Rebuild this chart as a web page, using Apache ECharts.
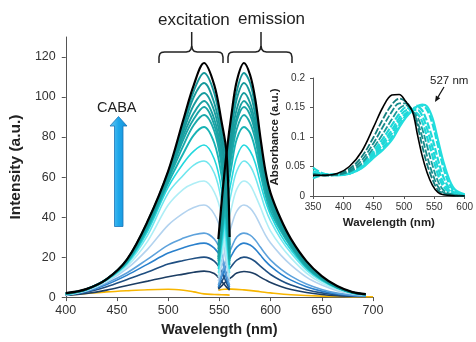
<!DOCTYPE html>
<html><head><meta charset="utf-8">
<script src="https://cdn.jsdelivr.net/npm/echarts@6/dist/echarts.min.js"></script>
<style>html,body{margin:0;padding:0;background:#fff}#c{width:476px;height:342px}</style>
</head><body><div id="c"></div>
<script>
// ---------- main chart: excitation / emission spectra ----------
const excX = [400, 420, 440, 460, 480, 500, 515, 525, 535, 545, 552, 557, 560];
const emX  = [549, 553, 557, 562, 567, 574, 580, 585, 590, 595, 600, 610, 620, 635, 650, 665, 680, 693];

const exYellow = [1, 1.8, 2.6, 3.2, 3.7, 3.9, 3.4, 2.6, 1.6, 1.3, 1.2, 1.1, 1.0];
const emYellowX = [549, 555, 562, 574, 590, 600, 620, 650, 680, 700];
const emYellow  = [3.4, 3.9, 4, 3.6, 2.7, 2.1, 1.2, 0.5, 0.25, 0.15];

const ex13  = [0.8, 1.8, 3.5, 5.8, 8, 10.2, 11.5, 12.4, 13, 11.8, 8, 5, 3.5];
const ex20  = [1, 2.5, 5.2, 8.8, 12.5, 16.5, 18.3, 19.3, 20, 18, 13, 7, 4];
const ex27  = [1, 2.8, 6.3, 11, 16.5, 22, 24.7, 26.2, 27, 24.5, 19, 9, 5];
const ex32  = [1, 3, 7, 12.2, 19, 26, 29.5, 31.2, 32, 29, 22, 11, 6];
const ex46  = [1.1, 3.2, 7.6, 14.3, 24, 36, 42, 44.8, 46, 41.5, 32, 16, 8];
const ex58  = [1.2, 3.4, 8.2, 15.5, 28, 46, 54, 56.8, 58, 52.5, 41, 20, 10];
const ex68  = [1.3, 3.5, 8.5, 16.5, 31, 52, 61, 66, 68, 62, 48, 25, 12];
const ex76  = [1.4, 3.6, 8.7, 17, 33, 55, 67, 73, 76, 69, 54, 30, 14];
const ex85  = [1.5, 3.7, 8.8, 17.5, 34.5, 57, 72, 81, 85, 77, 61, 37, 16];
const ex91  = [1.6, 3.8, 8.9, 18, 35.5, 58.5, 76, 86, 91, 83, 66, 42, 18];
const ex95  = [1.7, 3.8, 8.9, 18.2, 36, 59.5, 79, 89, 95, 86, 69, 46, 19];
const ex98  = [1.7, 3.9, 8.9, 18.4, 36.5, 60, 81, 92, 98, 89, 72, 50, 20];
const ex102 = [1.8, 3.9, 9, 18.6, 37, 61, 83, 96, 102, 93, 76, 55, 22];
const ex107 = [1.9, 4, 9, 18.8, 37.5, 62, 85, 100, 107, 97, 80, 60, 24];
const ex112 = [1.9, 4, 9, 18.9, 37.8, 62.5, 87, 103, 112, 102, 84, 66, 26];
const ex117 = [2, 4, 9, 19, 38, 63, 89, 106, 117, 106, 88, 72, 30];

const em13  = [4, 6, 8, 10, 12, 12.8, 12.4, 11.5, 10, 8.6, 7.3, 5.3, 3.8, 2.3, 1.3, 0.7, 0.4, 0.3];
const em20  = [4.5, 8.5, 12, 15.5, 18.5, 20, 19.3, 17.8, 15.5, 13.3, 11.3, 8.3, 6, 3.7, 2.1, 1.1, 0.6, 0.4];
const em27  = [5, 11, 16, 21, 25, 27, 26, 24, 21, 18, 15.5, 11.5, 8.5, 5.2, 3, 1.6, 0.8, 0.5];
const em32  = [6, 13, 19, 25, 30, 32, 31, 28.5, 25, 21.5, 18.5, 14, 10.5, 6.5, 3.8, 2, 1, 0.6];
const em46  = [8, 18, 27, 36, 43, 46, 44.5, 41, 36, 31, 27, 21, 16, 10, 6, 3.2, 1.6, 1];
const em58  = [10, 23, 34, 45, 54, 58, 56, 51, 45, 38.5, 33, 25.5, 19.5, 12, 7, 3.8, 1.8, 1.1];
const em68  = [12, 27, 40, 53, 63, 68, 65.5, 60, 52, 44, 38, 29, 22, 13.5, 8, 4.3, 2, 1.2];
const em76  = [14, 30, 45, 59, 70, 76, 73, 67, 57, 48, 41, 31, 23.5, 14.5, 8.5, 4.5, 2, 1.2];
const em85  = [16, 34, 50, 66, 79, 85, 82, 74, 62, 51, 43, 33, 25, 15, 8.8, 4.7, 2.1, 1.3];
const em91  = [18, 37, 54, 71, 84, 91, 87, 79, 65, 53, 45, 34, 25.5, 15.5, 9, 4.8, 2.2, 1.3];
const em95  = [19, 39, 57, 74, 88, 95, 91, 82, 67, 55, 46, 34.5, 26, 16, 9.3, 4.9, 2.2, 1.3];
const em98  = [20, 41, 59, 77, 90, 98, 94, 84, 69, 56, 47, 35, 26.5, 16, 9.5, 5, 2.3, 1.4];
const em102 = [22, 43, 62, 80, 94, 102, 97, 87, 71, 57, 48, 36, 27, 16.5, 9.7, 5, 2.3, 1.4];
const em107 = [24, 46, 65, 84, 99, 107, 102, 91, 74, 59, 49.5, 37, 28, 17, 10, 5.2, 2.4, 1.4];
const em112 = [26, 49, 69, 88, 103, 112, 107, 95, 77, 61, 51, 38, 28.5, 17.5, 10, 5.3, 2.4, 1.5];
const em117 = [29, 52, 72, 92, 108, 117, 111, 99, 80, 63, 52, 39, 29, 18, 10.5, 5.5, 2.5, 1.5];

const excList = [ex13, ex20, ex27, ex32, ex46, ex58, ex68, ex76, ex85, ex91, ex95, ex98, ex102, ex107, ex112, ex117];
const emList  = [em13, em20, em27, em32, em46, em58, em68, em76, em85, em91, em95, em98, em102, em107, em112, em117];
const levelColors = ['#1c3d63', '#1f4f82', '#2a80cc', '#5da2dc', '#b3d3ef', '#aeeef6', '#6fe6ee', '#22d8de',
                     '#17b3b5', '#19a9ab', '#18a4a6', '#18a0a2', '#179c9e', '#16999b', '#16979a', '#000000'];
const yTicks = [0, 20, 40, 60, 80, 100, 120];

// ---------- inset: absorbance ----------
const insX = [350, 370, 390, 410, 430, 450, 465, 480, 492, 503, 514, 522, 530, 538, 547, 556, 565, 575, 585, 600];
const absBlack = [0.035, 0.035, 0.038, 0.05, 0.075, 0.117, 0.15, 0.171, 0.172, 0.16, 0.143, 0.105, 0.068, 0.04, 0.018, 0.006, 0.002, 0.001, 0, 0];
const absT1 = [0.036, 0.035, 0.037, 0.046, 0.066, 0.1, 0.13, 0.155, 0.165, 0.16, 0.144, 0.12, 0.085, 0.054, 0.028, 0.01, 0.004, 0.002, 0.001, 0];
const absT2 = [0.037, 0.035, 0.036, 0.043, 0.06, 0.09, 0.117, 0.143, 0.157, 0.157, 0.144, 0.126, 0.1, 0.068, 0.038, 0.016, 0.006, 0.003, 0.001, 0];
const absT3 = [0.038, 0.035, 0.036, 0.041, 0.055, 0.082, 0.105, 0.13, 0.148, 0.154, 0.144, 0.134, 0.114, 0.085, 0.052, 0.025, 0.01, 0.004, 0.002, 0];
const absC1 = [0.04, 0.036, 0.036, 0.04, 0.052, 0.076, 0.097, 0.12, 0.139, 0.15, 0.144, 0.14, 0.126, 0.1, 0.068, 0.036, 0.016, 0.006, 0.002, 0.001];
const absC2 = [0.042, 0.037, 0.036, 0.039, 0.05, 0.072, 0.091, 0.112, 0.132, 0.145, 0.146, 0.146, 0.136, 0.114, 0.082, 0.048, 0.022, 0.009, 0.003, 0.001];
const absC3 = [0.03, 0.036, 0.036, 0.038, 0.049, 0.07, 0.087, 0.106, 0.126, 0.14, 0.146, 0.151, 0.145, 0.126, 0.097, 0.062, 0.032, 0.013, 0.005, 0.002];
const absC4 = [0.048, 0.037, 0.036, 0.038, 0.048, 0.068, 0.082, 0.1, 0.12, 0.136, 0.146, 0.153, 0.153, 0.146, 0.122, 0.085, 0.048, 0.02, 0.007, 0.002];
const absC5 = [0.04, 0.036, 0.035, 0.038, 0.047, 0.065, 0.078, 0.095, 0.116, 0.133, 0.145, 0.152, 0.155, 0.152, 0.132, 0.095, 0.058, 0.027, 0.01, 0.003];

const FONT = 'Arial, "Liberation Sans", sans-serif';
const pairs = (xs, ys) => xs.map((x, i) => [x, ys[i]]);

const series = [];
function addMain(xs, ys, color, width) {
  series.push({ type: 'line', xAxisIndex: 0, yAxisIndex: 0, data: pairs(xs, ys), showSymbol: false,
    smooth: 0.35, lineStyle: { color: color, width: width }, silent: true });
}
addMain(excX, exYellow, '#f7b500', 1.6);
addMain(emYellowX, emYellow, '#f7b500', 1.6);
for (let i = 0; i < excList.length; i++) {
  const w = i === excList.length - 1 ? 2.2 : (i >= 8 ? 1.9 : 1.6);
  addMain(excX, excList[i], levelColors[i], w);
  addMain(emX, emList[i], levelColors[i], w);
}
function addInset(ys, color, width, dashed) {
  series.push({ type: 'line', xAxisIndex: 1, yAxisIndex: 1, data: pairs(insX, ys), showSymbol: false,
    smooth: 0.35, lineStyle: { color: color, width: width, type: dashed ? [7, 2] : 'solid' }, silent: true });
}
addInset(absC1, '#1fd8d8', 2.2, true);
addInset(absC2, '#1fd8d8', 2.2, true);
addInset(absC3, '#1fd8d8', 2.2, true);
addInset(absC4, '#1fd8d8', 2.2, true);
addInset(absC5, '#22dede', 2.2, false);
addInset(absT3, '#1a9a9a', 1.8, true);
addInset(absT2, '#178c8c', 1.8, true);
addInset(absT1, '#147e7e', 1.8, true);
addInset(absBlack, '#000000', 1.6, false);

const axisCol = '#555';
const braceStyle = { stroke: '#222', lineWidth: 1.5, fill: null };
function brace(xl, xm, xr) {
  return [
    { type: 'polyline', silent: true, style: braceStyle, shape: { points: [
      [xl, 63], [xl, 57], [xl + 0.8, 54], [xl + 2.5, 52.5], [xl + 5.5, 52], [xm - 5.5, 52],
      [xm - 2.5, 51.3], [xm - 0.8, 49.3], [xm, 46], [xm, 32]] } },
    { type: 'polyline', silent: true, style: braceStyle, shape: { points: [
      [xm, 46], [xm + 0.8, 49.3], [xm + 2.5, 51.3], [xm + 5.5, 52], [xr - 5.5, 52],
      [xr - 2.5, 52.5], [xr - 0.8, 54], [xr, 57], [xr, 63]] } }
  ];
}

const option = {
  animation: false,
  backgroundColor: '#fff',
  textStyle: { fontFamily: FONT },
  grid: [
    { left: 60, right: 103, top: 37, bottom: 40 },
    { left: 313, right: 8, top: 78, bottom: 146 }
  ],
  xAxis: [
    { type: 'value', gridIndex: 0, min: 400, max: 700, interval: 50,
      name: 'Wavelength (nm)', nameLocation: 'middle', nameGap: 23,
      nameTextStyle: { fontWeight: 'bold', fontSize: 14.5, color: '#222', fontFamily: FONT },
      axisLine: { lineStyle: { color: axisCol } }, axisTick: { length: 4, lineStyle: { color: axisCol } },
      axisLabel: { fontSize: 12.5, color: '#333', margin: 7, fontFamily: FONT }, splitLine: { show: false } },
    { type: 'value', gridIndex: 1, min: 350, max: 600, interval: 50,
      name: 'Wavelength (nm)', nameLocation: 'middle', nameGap: 21,
      nameTextStyle: { fontWeight: 'bold', fontSize: 11.5, color: '#222', fontFamily: FONT },
      axisLine: { lineStyle: { color: axisCol } }, axisTick: { length: 3, lineStyle: { color: axisCol } },
      axisLabel: { fontSize: 10, color: '#333', margin: 6, fontFamily: FONT }, splitLine: { show: false } }
  ],
  yAxis: [
    { type: 'value', gridIndex: 0, min: 0, max: 130, interval: 20,
      name: 'Intensity (a.u.)', nameLocation: 'middle', nameGap: 31,
      nameTextStyle: { fontWeight: 'bold', fontSize: 15.5, color: '#222', fontFamily: FONT },
      axisLine: { show: true, lineStyle: { color: axisCol } },
      axisTick: { show: true, length: 4, lineStyle: { color: axisCol }, customValues: yTicks },
      axisLabel: { fontSize: 12.5, color: '#333', margin: 10, fontFamily: FONT, customValues: yTicks },
      splitLine: { show: false } },
    { type: 'value', gridIndex: 1, min: 0, max: 0.2, interval: 0.05,
      name: 'Absorbance (a.u.)', nameLocation: 'middle', nameGap: 32,
      nameTextStyle: { fontWeight: 'bold', fontSize: 11.5, color: '#222', fontFamily: FONT },
      axisLine: { show: true, lineStyle: { color: axisCol } },
      axisTick: { show: true, length: 3, lineStyle: { color: axisCol } },
      axisLabel: { fontSize: 10, color: '#333', margin: 8, fontFamily: FONT },
      splitLine: { show: false } }
  ],
  series: series,
  graphic: [
    { type: 'text', x: 158, y: 12, silent: true, style: { text: 'excitation', font: '17px ' + FONT, fill: '#222' } },
    { type: 'text', x: 238, y: 11, silent: true, style: { text: 'emission', font: '17px ' + FONT, fill: '#222' } },
    ...brace(159, 191.7, 223),
    ...brace(228, 261, 292),
    { type: 'text', x: 97, y: 100, silent: true, style: { text: 'CABA', font: '14.5px ' + FONT, fill: '#222' } },
    { type: 'polygon', silent: true, shape: { points: [[118.5, 116.5], [127, 126], [123, 126], [123, 226.5], [114.5, 226.5], [114.5, 126], [110, 126]] },
      style: { fill: new echarts.graphic.LinearGradient(0, 0, 1, 0, [{ offset: 0, color: '#6cccf5' }, { offset: 0.5, color: '#1ea7ea' }, { offset: 1, color: '#1590d8' }]),
               stroke: '#1b74b8', lineWidth: 0.8 } },
    { type: 'text', x: 430, y: 75, silent: true, style: { text: '527 nm', font: '11.5px ' + FONT, fill: '#222' } },
    { type: 'line', silent: true, shape: { x1: 444, y1: 87, x2: 438.1, y2: 96.9 }, style: { stroke: '#111', lineWidth: 1.2 } },
    { type: 'polygon', silent: true, shape: { points: [[435, 102], [440.2, 98.2], [435.9, 95.6]] }, style: { fill: '#111' } }
  ]
};
const chart = echarts.init(document.getElementById('c'), null, { renderer: 'canvas' });
chart.setOption(option);
</script>
</body></html>
